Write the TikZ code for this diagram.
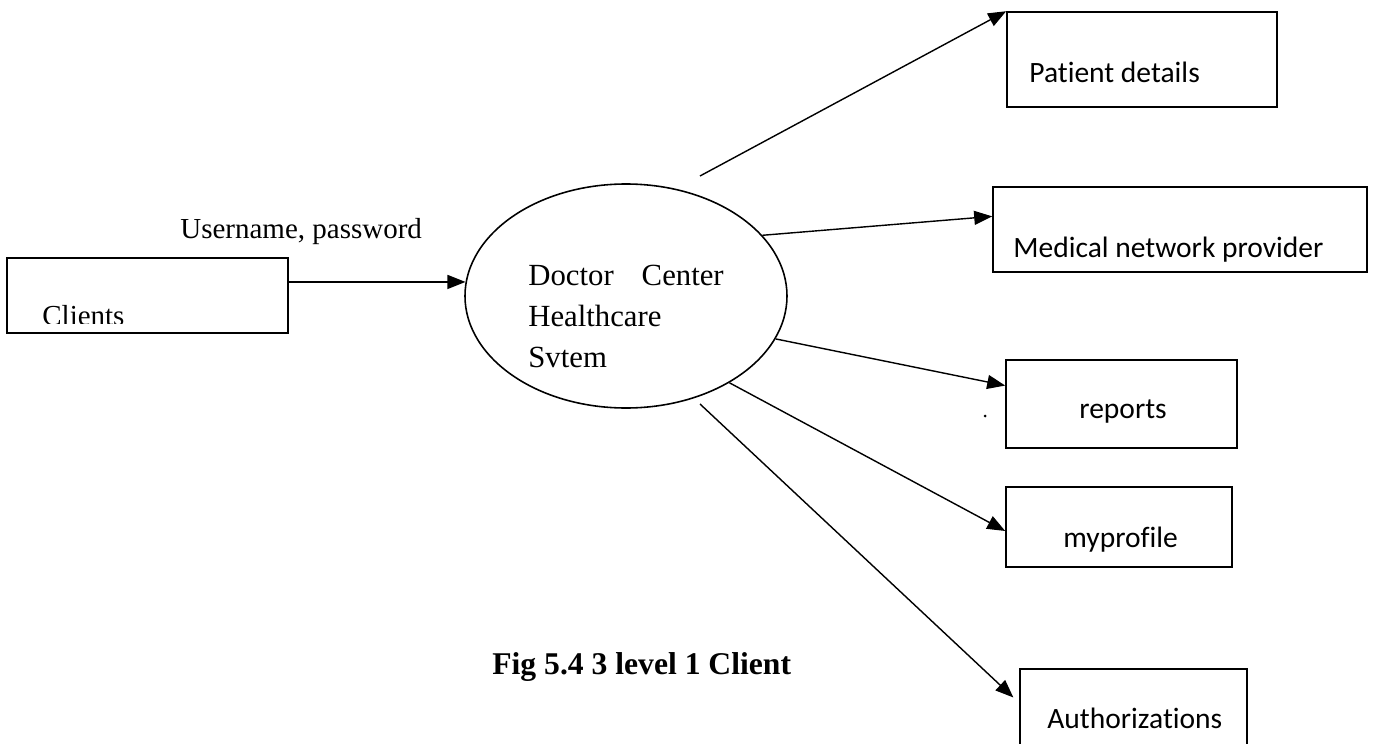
\documentclass[tikz,border=0pt]{standalone}
\usepackage{fontspec}
\setmainfont{Liberation Serif}
\newfontfamily\calibri[Ligatures=NoCommon]{Carlito}
\usetikzlibrary{arrows.meta}
\usetikzlibrary{shapes.geometric}

\begin{document}
\begin{tikzpicture}[x=0.2mm,y=-0.2mm,
	flow/.style={draw,line width=0.8pt,-{Triangle[length=3.6mm,width=2.8mm]}},
	box/.style={draw,line width=0.9pt,rectangle,inner sep=0pt},
	txt/.style={anchor=base west,inner sep=0pt,font=\fontsize{16.5}{20}\selectfont},
	ctxt/.style={txt,font=\calibri\fontsize{16.8}{20}\selectfont}]
 	\useasboundingbox (0,0) rectangle (1378,744);

	\node[box,minimum width=56.2mm,minimum height=15mm] (cli) at (147.5,295.5) {};
	\begin{scope}
		\clip (0,0) rectangle (300,323);
		\node[txt] (clitxt) at (42,325) {Clients};
	\end{scope}

	\node[draw,ellipse,line width=0.9pt,inner sep=0pt,
		minimum width=64.4mm,minimum height=44.8mm] (dcs) at (626,296) {};
	\node[anchor=north west,inner sep=0pt,align=left,
		font=\fontsize{17.5}{23.3}\selectfont] (dcstxt) at (528,265)
		{Doctor\hspace{5.6mm}Center\\Healthcare\\Svtem};

	\node[box,minimum width=54mm,minimum height=19mm] (pat) at (1142,59.5) {};
	\node[ctxt] (pattxt) at (1029,82) {Patient details};
	\node[box,minimum width=74.8mm,minimum height=17mm] (mnp) at (1180,229.5) {};
	\node[ctxt] (mnptxt) at (1013,257) {Medical network provider};
	\node[box,minimum width=46.2mm,minimum height=17.6mm] (rep) at (1121.5,404) {};
	\node[ctxt] (reptxt) at (1079,418) {reports};
	\node[box,minimum width=45.2mm,minimum height=16mm] (prof) at (1119,527) {};
	\node[ctxt] (proftxt) at (1063,547) {myprofile};
	\node[box,minimum width=45.4mm,minimum height=20mm] (auth) at (1133.5,719) {};
	\node[ctxt] (authtxt) at (1047,728) {Authorizations};

	\node[txt] (upw) at (180,238) {Username, password};
	\node[txt,font=\bfseries\fontsize{18}{22}\selectfont] (cap) at (492,674) {Fig 5.4 3 level 1 Client};

	\coordinate (s1) at (700,176);
	\coordinate (s5) at (700,404);
	\draw[flow] (cli.east |- dcs.175) -- (dcs.175);
	\draw[flow] (s1) -- (pat.north west);
	\draw[flow] (dcs.24) -- (mnp.176);
	\draw[flow] (dcs.-16) -- (rep.171);
	\draw[flow] (dcs.-40) -- (prof.182);
	\draw[flow,shorten >=1.6mm] (s5) -- (auth.172);

	\fill (985,416) circle (0.3mm);
\end{tikzpicture}
\end{document}
